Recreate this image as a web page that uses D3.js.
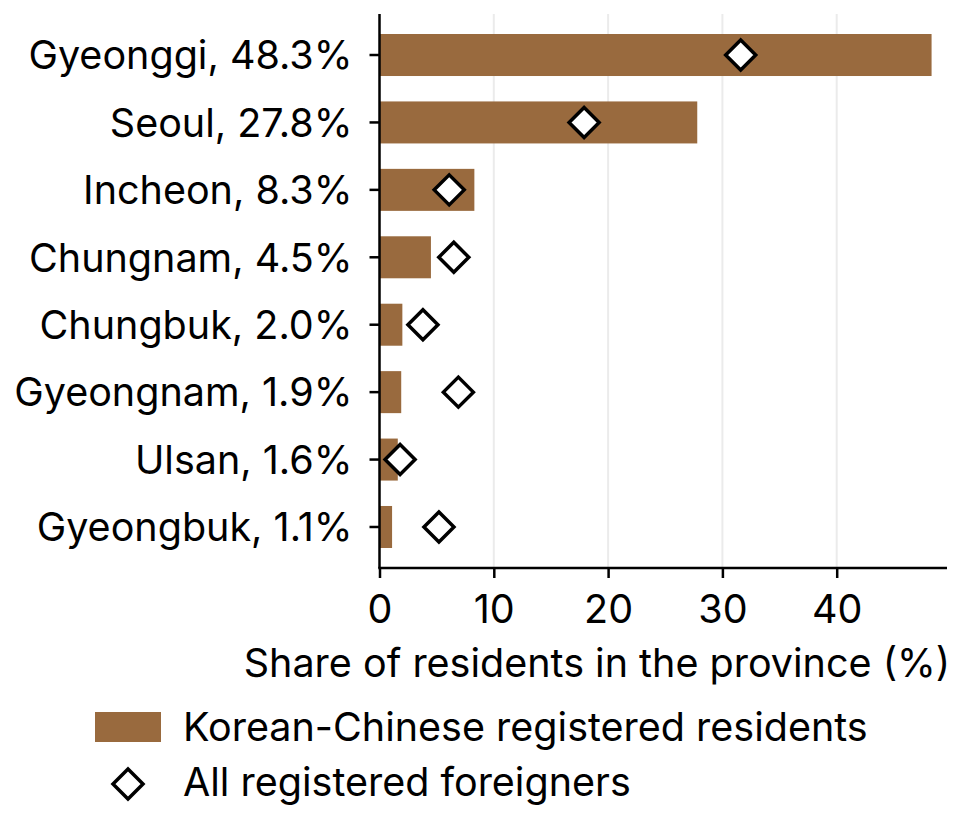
<!DOCTYPE html>
<html>
<head>
<meta charset="utf-8">
<script src="https://cdn.jsdelivr.net/npm/d3@7"></script>
<style>
  body { margin: 0; background: #fff; }
  text { font-family: Inter, "Noto Sans", sans-serif; fill: #000; }
</style>
</head>
<body>
<svg id="svg" width="962" height="819"></svg>
<script>
// data
const provinces = ["Gyeonggi", "Seoul", "Incheon", "Chungnam", "Chungbuk", "Gyeongnam", "Ulsan", "Gyeongbuk"];
const koreanChinese = [48.3, 27.8, 8.3, 4.5, 2.0, 1.9, 1.6, 1.1];
const allForeigners = [31.6, 17.9, 6.1, 6.5, 3.8, 6.9, 1.8, 5.2];
const xTicks = [0, 10, 20, 30, 40];
const xLabel = "Share of residents in the province (%)";
const legendLabels = ["Korean-Chinese registered residents", "All registered foreigners"];

const barColor = "#996a3e";
const svg = d3.select("#svg");
const fontSize = 39.5;

const data = provinces.map((p, i) => ({
  name: p,
  kc: koreanChinese[i],
  all: allForeigners[i],
  label: `${p}, ${koreanChinese[i].toFixed(1)}%`
}));

const plotTop = 14, plotBottom = 568;
const xScale = d3.scaleLinear()
  .domain([0, 49.65])
  .range([379.5, 947]);

const yScale = d3.scaleBand()
  .domain(provinces)
  .range([21.3, 560.7])
  .paddingInner(0.377)
  .paddingOuter(0.1885);

// grid
svg.append("g")
  .selectAll("line").data(xTicks.slice(1))
  .enter().append("line")
  .attr("x1", d => xScale(d)).attr("x2", d => xScale(d))
  .attr("y1", plotTop).attr("y2", plotBottom)
  .attr("stroke", "#ebebeb")
  .attr("stroke-width", 2);

// bars
svg.append("g")
  .selectAll("rect").data(data)
  .enter().append("rect")
  .attr("x", xScale(0))
  .attr("y", d => yScale(d.name))
  .attr("width", d => xScale(d.kc) - xScale(0))
  .attr("height", yScale.bandwidth())
  .attr("fill", barColor);

// diamonds
const diamond = (cx, cy, r) => `M${cx},${cy - r}L${cx + r},${cy}L${cx},${cy + r}L${cx - r},${cy}Z`;
svg.append("g")
  .selectAll("path").data(data)
  .enter().append("path")
  .attr("d", d => diamond(xScale(d.all), yScale(d.name) + yScale.bandwidth() / 2, 15))
  .attr("fill", "#fff")
  .attr("stroke", "#000")
  .attr("stroke-width", 3.5);

// x axis
const xAxis = d3.axisBottom(xScale)
  .tickValues(xTicks)
  .tickSize(10)
  .tickPadding(17)
  .tickFormat(d3.format("d"));

const xAxisG = svg.append("g")
  .attr("transform", `translate(0,${plotBottom})`)
  .call(xAxis);
xAxisG.select(".domain")
  .attr("d", `M${xScale(0) - 1.25},0H${xScale.range()[1]}`)
  .attr("stroke-width", 2.5);
xAxisG.selectAll(".tick line").attr("stroke-width", 2.5);
xAxisG.selectAll(".tick text")
  .style("font-size", fontSize + "px")
  .attr("font-family", null);

svg.append("text")
  .attr("x", 597)
  .attr("y", 677)
  .attr("text-anchor", "middle")
  .style("font-size", fontSize + "px")
  .text(xLabel);

// y axis
const yAxis = d3.axisLeft(yScale)
  .tickSize(10)
  .tickPadding(17)
  .tickFormat((d, i) => data[i].label);

const yAxisG = svg.append("g")
  .attr("transform", `translate(${xScale(0)},0)`)
  .call(yAxis);
yAxisG.select(".domain")
  .attr("d", `M0,${plotTop}V${plotBottom}`)
  .attr("stroke-width", 2.5);
yAxisG.selectAll(".tick line").attr("stroke-width", 2.5);
yAxisG.selectAll(".tick text")
  .style("font-size", fontSize + "px")
  .attr("font-family", null)
  .attr("dy", "0.36em");

// legend
const legend = svg.append("g");
legend.append("rect")
  .attr("x", 95).attr("y", 712)
  .attr("width", 66).attr("height", 30)
  .attr("fill", barColor);
legend.append("path")
  .attr("d", diamond(128, 784, 15))
  .attr("fill", "#fff")
  .attr("stroke", "#000")
  .attr("stroke-width", 3.5);
legend.selectAll("text").data(legendLabels)
  .enter().append("text")
  .attr("x", 183)
  .attr("y", (d, i) => 741 + i * 55)
  .style("font-size", fontSize + "px")
  .text(d => d);
</script>
</body>
</html>
